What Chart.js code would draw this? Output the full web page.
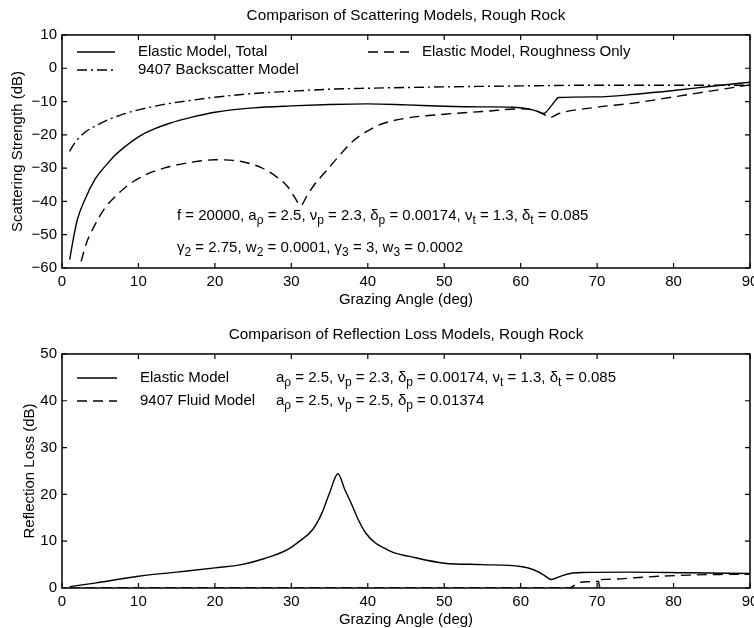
<!DOCTYPE html>
<html>
<head>
<meta charset="utf-8">
<script src="https://cdn.jsdelivr.net/npm/chart.js@4.4.0/dist/chart.umd.min.js"></script>
<style>
  html, body { margin: 0; padding: 0; background: #fff; overflow: hidden; }
  #wrap { position: relative; width: 754px; height: 628px; overflow: hidden; }
  canvas { position: absolute; left: 0; }
  #scat { top: 0; }
  #refl { top: 314px; }
</style>
</head>
<body>
<div id="wrap">
  <canvas id="scat" width="762" height="314"></canvas>
  <canvas id="refl" width="762" height="320"></canvas>
</div>
<script>
// top panel - scattering strength (dB) vs grazing angle (deg)
const totalAngle = [1, 1.5, 2, 3, 4.3, 5, 6, 7, 8, 10, 12, 14, 17, 20, 25, 30, 35, 40, 45, 50, 55, 59, 61, 62, 63, 64, 65, 70, 75, 80, 85, 90];
const totalDb = [-57.5, -51, -45.5, -39.4, -33.4, -31.2, -28.5, -26, -24, -20.6, -18.3, -16.6, -14.7, -13.2, -11.9, -11.3, -10.9, -10.7, -11.0, -11.4, -11.6, -11.7, -12.2, -12.8, -13.6, -11.3, -8.8, -8.6, -7.8, -6.7, -5.4, -4.2];

const roughAngle = [2.5, 3.2, 4.2, 5.6, 7.2, 8.9, 10.5, 12, 14, 17, 20, 22, 24, 26, 28, 29.5, 30.5, 31.2, 32, 33, 34.5, 36, 38, 40, 42, 45, 50, 55, 60, 62, 63, 63.8, 65, 70, 75, 80, 85, 90];
const roughDb = [-58, -52.5, -47.5, -42, -38, -34.7, -32.5, -31, -29.6, -28.2, -27.5, -27.6, -28.3, -29.8, -32.5, -35.5, -39, -41.3, -38.5, -35, -31, -27, -22, -18.8, -16.6, -15, -13.8, -13, -12.2, -12.7, -13.8, -14.8, -13.6, -11.7, -10.4, -8.6, -6.8, -5.0];

const backAngle = [1, 1.5, 2, 3, 4, 5, 6, 8, 10, 13, 17, 20, 25, 30, 35, 40, 50, 60, 70, 80, 90];
const backDb = [-25, -23, -21.5, -19.2, -17.8, -16.6, -15.5, -13.8, -12.5, -11, -9.6, -8.7, -7.6, -6.9, -6.3, -6.0, -5.6, -5.3, -5.1, -5.1, -5.1];

// bottom panel - reflection loss (dB) vs grazing angle (deg)
const elasticAngle = [1, 4.5, 10, 15, 20, 23.5, 26.5, 29.5, 31, 32.8, 34, 35, 36.1, 37, 37.8, 38.7, 39.7, 41, 42.2, 43.5, 45.3, 50, 55, 60, 61.7, 63, 64, 65.2, 66.5, 68, 74, 82, 90];
const elasticDb = [0.3, 1.1, 2.5, 3.4, 4.3, 5.0, 6.3, 8.2, 9.9, 12.5, 16.0, 20.3, 24.4, 21.0, 18.2, 14.8, 11.8, 9.6, 8.5, 7.5, 6.8, 5.3, 5.0, 4.6, 3.9, 2.8, 1.8, 2.5, 3.1, 3.3, 3.4, 3.25, 3.1];

const fluidAngle = [1, 30, 66.4, 67.5, 69, 70.2, 70.3, 70.5, 72, 75, 78, 82, 86, 90];
const fluidDb = [0, 0, 0, 1.1, 1.35, 1.4, 0.2, 1.8, 1.9, 2.2, 2.5, 2.75, 2.9, 2.95];

const xTicks = [0, 90, 10];      // min, max, step
const scatTicks = [-60, 10, 10];
const reflTicks = [0, 50, 10];

const FONT = "'Liberation Sans', Arial, Helvetica, sans-serif";
Chart.defaults.font.family = FONT;
Chart.defaults.color = '#000';

function pts(a, v) {
	return a.map((x, i) => ({ x: x, y: v[i] }));
}

// draws "a_ρ = 2.5" style strings, char after _ goes as subscript
function drawRich(ctx, str, x, y) {
	let parts = str.split(/_(.)/);
	parts.forEach((p, i) => {
		if (i % 2) {
			ctx.font = '12px ' + FONT;
			ctx.fillText(p, x, y + 5);
		} else {
			ctx.font = '15px ' + FONT;
			ctx.fillText(p, x, y);
		}
		x += ctx.measureText(p).width;
	});
}

// matlab style box with inward ticks on all four sides
const frame = {
	id: 'frame',
	afterDatasetsDraw(chart) {
		const { ctx, chartArea: a, scales } = chart;
		ctx.save();
		ctx.strokeStyle = '#000';
		ctx.lineWidth = 1.5;
		ctx.strokeRect(a.left, a.top, a.right - a.left, a.bottom - a.top);
		ctx.lineWidth = 1.2;
		ctx.beginPath();
		scales.x.ticks.forEach(t => {
			let px = scales.x.getPixelForValue(t.value);
			ctx.moveTo(px, a.bottom); ctx.lineTo(px, a.bottom - 5);
			ctx.moveTo(px, a.top); ctx.lineTo(px, a.top + 5);
		});
		scales.y.ticks.forEach(t => {
			let py = scales.y.getPixelForValue(t.value);
			ctx.moveTo(a.left, py); ctx.lineTo(a.left + 5, py);
			ctx.moveTo(a.right, py); ctx.lineTo(a.right - 5, py);
		});
		ctx.stroke();
		ctx.restore();
	}
};

// legend entries and parameter notes inside the axes
const notes = {
	id: 'notes',
	afterDraw(chart, args, opts) {
		const { ctx, chartArea: a } = chart;
		ctx.save();
		ctx.fillStyle = '#000';
		ctx.textBaseline = 'middle';
		(opts.legend || []).forEach(it => {
			let ds = chart.data.datasets[it.ds];
			let y = a.top + it.dy;
			ctx.strokeStyle = '#000';
			ctx.lineWidth = 1.4;
			ctx.setLineDash(ds.borderDash || []);
			ctx.beginPath();
			ctx.moveTo(a.left + it.dx, y);
			ctx.lineTo(a.left + it.dx + it.len, y);
			ctx.stroke();
			ctx.setLineDash([]);
			ctx.font = '15px ' + FONT;
			ctx.fillText(ds.label, a.left + it.tx, y);
		});
		(opts.lines || []).forEach(l => {
			drawRich(ctx, l.text, a.left + l.dx, a.top + l.dy);
		});
		ctx.restore();
	}
};

function axes(yt, yTitle, yTitlePad) {
	return {
		x: {
			type: 'linear', min: xTicks[0], max: xTicks[1],
			grid: { display: false, drawTicks: false },
			border: { display: false },
			ticks: { stepSize: xTicks[2], padding: 5, font: { size: 15 }, color: '#000' },
			title: { display: true, text: 'Grazing Angle (deg)', font: { size: 15 }, color: '#000', padding: { top: 0, bottom: 5 } },
			afterFit: s => { s.height = 46; s.paddingLeft = 0; s.paddingRight = 0; }
		},
		y: {
			type: 'linear', min: yt[0], max: yt[1],
			grid: { display: false, drawTicks: false },
			border: { display: false },
			ticks: { stepSize: yt[2], padding: 5, font: { size: 15 }, color: '#000',
				callback: v => String(v).replace('-', '\u2212') },
			title: { display: true, text: yTitle, font: { size: 15 }, color: '#000', padding: { top: yTitlePad, bottom: 0 } },
			afterFit: s => { s.width = 62; s.paddingTop = 0; s.paddingBottom = 0; }
		}
	};
}

function line(label, data, dash) {
	return {
		label: label, data: data,
		borderColor: '#000', borderWidth: 1.4, borderDash: dash,
		pointRadius: 0, fill: false, cubicInterpolationMode: 'monotone'
	};
}

let scat = {
	type: 'line',
	data: {
		datasets: [
			line('Elastic Model, Total', pts(totalAngle, totalDb), []),
			line('9407 Backscatter Model', pts(backAngle, backDb), [10, 4, 2, 4]),
			line('Elastic Model, Roughness Only', pts(roughAngle, roughDb), [10, 6])
		]
	},
	options: {
		responsive: false, animation: false, devicePixelRatio: 1,
		layout: { padding: { left: 0, right: 12, top: 0, bottom: 0 } },
		scales: axes(scatTicks, 'Scattering Strength (dB)', 9.3),
		plugins: {
			legend: { display: false },
			tooltip: { enabled: false },
			title: { display: true, text: 'Comparison of Scattering Models, Rough Rock', fullSize: false,
				color: '#000', font: { size: 15.3, weight: 'normal' }, padding: { top: 6.1, bottom: 10.5 } },
			notes: {
				legend: [
					{ ds: 0, dx: 15, len: 38, tx: 76, dy: 17 },
					{ ds: 1, dx: 15, len: 38, tx: 76, dy: 35 },
					{ ds: 2, dx: 306, len: 41, tx: 360, dy: 17 }
				],
				lines: [
					{ text: 'f = 20000, a_ρ = 2.5, ν_p = 2.3, δ_p = 0.00174, ν_t = 1.3, δ_t = 0.085', dx: 115, dy: 181 },
					{ text: 'γ_2 = 2.75, w_2 = 0.0001, γ_3 = 3, w_3 = 0.0002', dx: 115, dy: 213 }
				]
			}
		}
	},
	plugins: [frame, notes]
};
new Chart(document.getElementById('scat'), scat);

let refl = {
	type: 'line',
	data: {
		datasets: [
			line('Elastic Model', pts(elasticAngle, elasticDb), []),
			line('9407 Fluid Model', pts(fluidAngle, fluidDb), [10, 6])
		]
	},
	options: {
		responsive: false, animation: false, devicePixelRatio: 1,
		layout: { padding: { left: 0, right: 12, top: 0, bottom: 0 } },
		scales: axes(reflTicks, 'Reflection Loss (dB)', 21),
		plugins: {
			legend: { display: false },
			tooltip: { enabled: false },
			title: { display: true, text: 'Comparison of Reflection Loss Models, Rough Rock', fullSize: false,
				color: '#000', font: { size: 15.3, weight: 'normal' }, padding: { top: 11.8, bottom: 9.8 } },
			notes: {
				legend: [
					{ ds: 0, dx: 15, len: 40, tx: 78, dy: 24 },
					{ ds: 1, dx: 15, len: 40, tx: 78, dy: 47 }
				],
				lines: [
					{ text: 'a_ρ = 2.5, ν_p = 2.3, δ_p = 0.00174, ν_t = 1.3, δ_t = 0.085', dx: 214, dy: 24 },
					{ text: 'a_ρ = 2.5, ν_p = 2.5, δ_p = 0.01374', dx: 214, dy: 47 }
				]
			}
		}
	},
	plugins: [frame, notes]
};
new Chart(document.getElementById('refl'), refl);
</script>
</body>
</html>
